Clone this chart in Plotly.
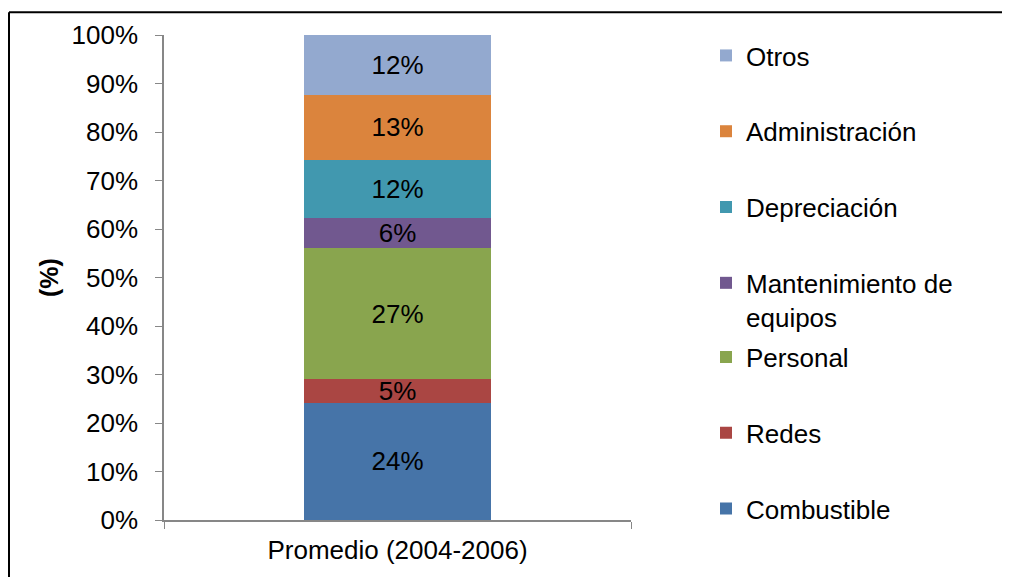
import plotly.graph_objects as go

category = ["Promedio (2004-2006)"]
series_names = ["Combustible", "Redes", "Personal", "Mantenimiento de<br>equipos",
                "Depreciación", "Administración", "Otros"]
series_values = [24.2, 4.9, 26.9, 6.2, 12.1, 13.4, 12.3]
series_colors = ["#4674A8", "#AA4643", "#89A54E", "#71588F", "#4198AF", "#DB843D", "#93A9CF"]
series_legend = ["legend2", "legend2", "legend2", "legend", "legend", "legend", "legend"]
y_ticks = [0, 10, 20, 30, 40, 50, 60, 70, 80, 90, 100]
y_ticklabels = [f"{v}%" for v in y_ticks]

FONT = "Liberation Sans, Arial, sans-serif"
FS = 26

# page has an 8px body margin; figure sized to fill the rest of the window
OFF = 8
W, H = 1010 - OFF, 577 - OFF
L, R, T, B = 164 - OFF, 631 - OFF, 32 - OFF, 521 - OFF

def px_x(page_x):
    return (page_x - OFF - L) / (R - L)

def px_y(page_y):
    return (B - (page_y - OFF)) / (B - T)

fig = go.Figure()
n = len(series_names)
for i, (name, val, col, lg) in enumerate(zip(series_names, series_values, series_colors, series_legend)):
    fig.add_trace(go.Bar(
        x=category, y=[val], name=name, marker=dict(color=col, line=dict(width=0)),
        text=[f"{val:.0f}%"], textposition="inside", insidetextanchor="middle",
        constraintext="none", textangle=0,
        textfont=dict(family=FONT, size=FS, color="black"),
        legend=lg, legendgroup=name, legendrank=n - i, hoverinfo="name+y",
    ))

legend_common = dict(traceorder="grouped", tracegroupgap=39, valign="top",
                     font=dict(family=FONT, size=FS, color="black"),
                     bgcolor="rgba(0,0,0,0)", xanchor="left", yanchor="top",
                     maxheight=1)

fig.update_layout(
    width=W, height=H,
    margin=dict(l=L, r=W - R, t=T, b=H - B, pad=0),
    barmode="stack", bargap=0.6,
    paper_bgcolor="white", plot_bgcolor="white",
    font=dict(family=FONT, size=FS, color="black"),
    showlegend=True,
    legend=dict(x=px_x(706), y=px_y(29), **legend_common),
    legend2=dict(x=px_x(706), y=px_y(333), **legend_common),
    xaxis=dict(type="category", range=[-0.5, 0.5], showline=True, linecolor="#878787",
               linewidth=1.5, ticks="outside", tickson="boundaries", ticklen=7,
               tickcolor="#878787", showgrid=False, tickfont=dict(size=FS),
               ticklabelstandoff=6),
    yaxis=dict(range=[0, 100], tickvals=y_ticks, ticktext=y_ticklabels, showline=True,
               linecolor="#878787", linewidth=1.5, ticks="outside", ticklen=7,
               tickcolor="#878787", showgrid=False, zeroline=False,
               tickfont=dict(size=FS), ticklabelstandoff=12,
               title=dict(text="<b>(%)</b>", font=dict(size=25), standoff=6)),
    shapes=[
        dict(type="line", xref="paper", yref="paper", x0=px_x(9), x1=px_x(1030),
             y0=px_y(9), y1=px_y(9), line=dict(color="black", width=2)),
        dict(type="line", xref="paper", yref="paper", x0=px_x(9), x1=px_x(9),
             y0=px_y(9), y1=px_y(600), line=dict(color="black", width=2)),
    ],
)

fig.write_html("out.html")
